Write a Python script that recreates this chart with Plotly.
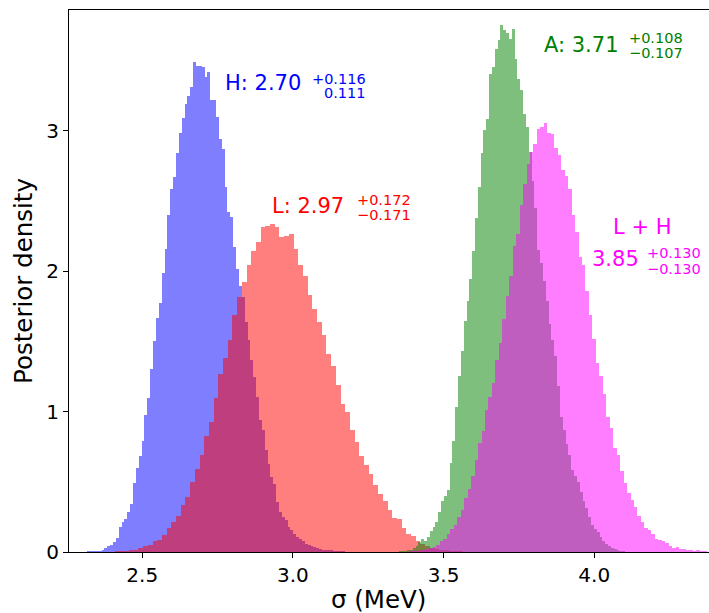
import plotly.graph_objects as go

# Posterior samples of sigma, binned: (first bin edge, bin width, densities)
H_START, H_WIDTH = 2.3175, 0.0095
H_DENSITY = [
    0.002, 0.003, 0.004, 0.004, 0.005, 0.008, 0.026, 0.043, 0.047, 0.069,
    0.097, 0.176, 0.211, 0.233, 0.282, 0.339, 0.489, 0.596, 0.681, 0.788,
    0.973, 1.094, 1.300, 1.500, 1.663, 1.770, 1.984, 2.154, 2.396, 2.581,
    2.667, 2.838, 2.980, 3.087, 3.186, 3.243, 3.307, 3.485, 3.459, 3.457,
    3.450, 3.381, 3.416, 3.215, 3.215, 3.096, 2.937, 2.866, 2.598, 2.420,
    2.384, 2.171, 2.012, 1.891, 1.815, 1.637, 1.507, 1.364, 1.246, 1.103,
    0.937, 0.866, 0.724, 0.629, 0.534, 0.486, 0.356, 0.285, 0.249, 0.226,
    0.178, 0.154, 0.130, 0.110, 0.090, 0.075, 0.060, 0.050, 0.040, 0.035,
    0.030, 0.020, 0.017, 0.012, 0.010, 0.008, 0.006, 0.004, 0.003, 0.002,
]

L_START, L_WIDTH = 2.4095, 0.0156
L_DENSITY = [
    0.002, 0.004, 0.006, 0.012, 0.017, 0.026, 0.040, 0.047, 0.078, 0.085,
    0.119, 0.168, 0.211, 0.254, 0.332, 0.389, 0.496, 0.593, 0.688, 0.826,
    0.925, 1.096, 1.269, 1.379, 1.511, 1.685, 1.815, 1.922, 2.040, 2.142,
    2.206, 2.313, 2.323, 2.332, 2.313, 2.242, 2.246, 2.261, 2.160, 2.040,
    1.962, 1.827, 1.727, 1.635, 1.542, 1.407, 1.322, 1.186, 1.051, 0.994,
    0.866, 0.783, 0.681, 0.622, 0.553, 0.480, 0.416, 0.360, 0.297, 0.245,
    0.238, 0.170, 0.131, 0.114, 0.078, 0.060, 0.045, 0.030, 0.020, 0.012,
    0.008, 0.005, 0.003, 0.002,
]

A_START, A_WIDTH = 3.3506, 0.0094
A_DENSITY = [
    0.002, 0.004, 0.006, 0.010, 0.015, 0.030, 0.042, 0.070, 0.090, 0.078,
    0.110, 0.152, 0.176, 0.213, 0.287, 0.360, 0.397, 0.439, 0.630, 0.789,
    1.034, 1.255, 1.434, 1.647, 1.787, 1.941, 2.145, 2.377, 2.598, 2.841,
    3.007, 3.081, 3.400, 3.449, 3.583, 3.645, 3.752, 3.716, 3.696, 3.654,
    3.725, 3.512, 3.365, 3.292, 3.120, 3.022, 2.850, 2.642, 2.451, 2.152,
    2.054, 1.931, 1.784, 1.625, 1.510, 1.392, 1.184, 0.963, 0.870, 0.767,
    0.694, 0.583, 0.540, 0.498, 0.424, 0.363, 0.314, 0.252, 0.191, 0.167,
    0.142, 0.105, 0.075, 0.060, 0.040, 0.028, 0.018, 0.010, 0.006, 0.003,
]

LH_START, LH_WIDTH = 3.3845, 0.0115
LH_DENSITY = [
    0.002, 0.003, 0.005, 0.008, 0.012, 0.018, 0.025, 0.035, 0.050, 0.078,
    0.090, 0.127, 0.164, 0.189, 0.250, 0.299, 0.385, 0.446, 0.544, 0.654,
    0.777, 0.863, 1.010, 1.100, 1.200, 1.368, 1.490, 1.662, 1.821, 1.968,
    2.181, 2.262, 2.470, 2.618, 2.765, 2.850, 2.907, 3.010, 3.022, 3.054,
    2.985, 2.973, 2.875, 2.826, 2.720, 2.679, 2.581, 2.397, 2.275, 2.103,
    2.042, 1.858, 1.686, 1.515, 1.343, 1.250, 1.127, 0.961, 0.883, 0.738,
    0.688, 0.574, 0.491, 0.420, 0.368, 0.318, 0.254, 0.211, 0.168, 0.154,
    0.126, 0.090, 0.083, 0.076, 0.062, 0.040, 0.026, 0.033, 0.019, 0.019,
    0.012, 0.012, 0.005, 0.012, 0.005, 0.005,
]

X_TICKS = [2.5, 3.0, 3.5, 4.0]
X_TICK_LABELS = ["2.5", "3.0", "3.5", "4.0"]
Y_TICKS = [0, 1, 2, 3]

FONT = "DejaVu Sans"
TICK_SIZE = 20
TITLE_SIZE = 24.5

series = [
    ("H", H_START, H_WIDTH, H_DENSITY, "#0000ff"),
    ("L", L_START, L_WIDTH, L_DENSITY, "#ff0000"),
    ("A", A_START, A_WIDTH, A_DENSITY, "#008000"),
    ("L + H", LH_START, LH_WIDTH, LH_DENSITY, "#ff00ff"),
]

fig = go.Figure()
for name, start, width, dens, color in series:
    centers = [start + width * (i + 0.5) for i in range(len(dens))]
    fig.add_trace(go.Bar(
        x=centers, y=dens, width=width, name=name,
        marker=dict(color=color, line=dict(width=0)),
        opacity=0.5, showlegend=False,
    ))

# Summary labels: median with upper/lower uncertainties
MAIN_SIZE = 21
SCRIPT_SIZE = 14.5
labels = [
    # (text, x, y, size, color)
    ("H: 2.70", 2.771, 3.34, MAIN_SIZE, "#0000ff"),
    ("+0.116", 3.060, 3.365, SCRIPT_SIZE, "#0000ff"),
    ("0.111", 3.101, 3.270, SCRIPT_SIZE, "#0000ff"),
    ("L: 2.97", 2.926, 2.46, MAIN_SIZE, "#ff0000"),
    ("+0.172", 3.208, 2.506, SCRIPT_SIZE, "#ff0000"),
    ("\u22120.171", 3.208, 2.396, SCRIPT_SIZE, "#ff0000"),
    ("A: 3.71", 3.831, 3.612, MAIN_SIZE, "#008000"),
    ("+0.108", 4.113, 3.659, SCRIPT_SIZE, "#008000"),
    ("\u22120.107", 4.113, 3.551, SCRIPT_SIZE, "#008000"),
    ("L + H", 4.058, 2.315, MAIN_SIZE, "#ff00ff"),
    ("3.85", 3.988, 2.085, MAIN_SIZE, "#ff00ff"),
    ("+0.130", 4.171, 2.129, SCRIPT_SIZE, "#ff00ff"),
    ("\u22120.130", 4.171, 2.016, SCRIPT_SIZE, "#ff00ff"),
]
for text, x, y, size, color in labels:
    fig.add_annotation(
        text=text, x=x, y=y, xref="x", yref="y",
        xanchor="left", yanchor="middle", showarrow=False,
        font=dict(family=FONT, size=size, color=color),
        borderpad=0,
    )

# Axis titles
fig.add_annotation(
    text="\u03c3 (MeV)", x=0.484, y=-0.087, xref="paper", yref="paper",
    xanchor="center", yanchor="middle", showarrow=False,
    font=dict(family=FONT, size=TITLE_SIZE, color="black"),
)
fig.add_annotation(
    text="Posterior density", x=-0.072, y=0.5, xref="paper", yref="paper",
    xanchor="center", yanchor="middle", showarrow=False, textangle=-90,
    font=dict(family=FONT, size=TITLE_SIZE, color="black"),
)

fig.update_layout(
    width=709, height=613,
    margin=dict(l=69, r=0, t=10, b=61),
    barmode="overlay", bargap=0,
    plot_bgcolor="white", paper_bgcolor="white",
    font=dict(family=FONT, size=TICK_SIZE, color="black"),
    xaxis=dict(
        range=[2.257, 4.381], tickvals=X_TICKS, ticktext=X_TICK_LABELS,
        showgrid=False, zeroline=False, showline=True, mirror=True,
        linecolor="black", linewidth=1, ticks="outside", ticklen=5,
        tickcolor="black", tickfont=dict(family=FONT, size=TICK_SIZE),
    ),
    yaxis=dict(
        range=[0, 3.858], tickvals=Y_TICKS,
        showgrid=False, zeroline=False, showline=True, mirror=False,
        linecolor="black", linewidth=1, ticks="outside", ticklen=5,
        tickcolor="black", tickfont=dict(family=FONT, size=TICK_SIZE),
    ),
)

fig.write_html("out.html")
